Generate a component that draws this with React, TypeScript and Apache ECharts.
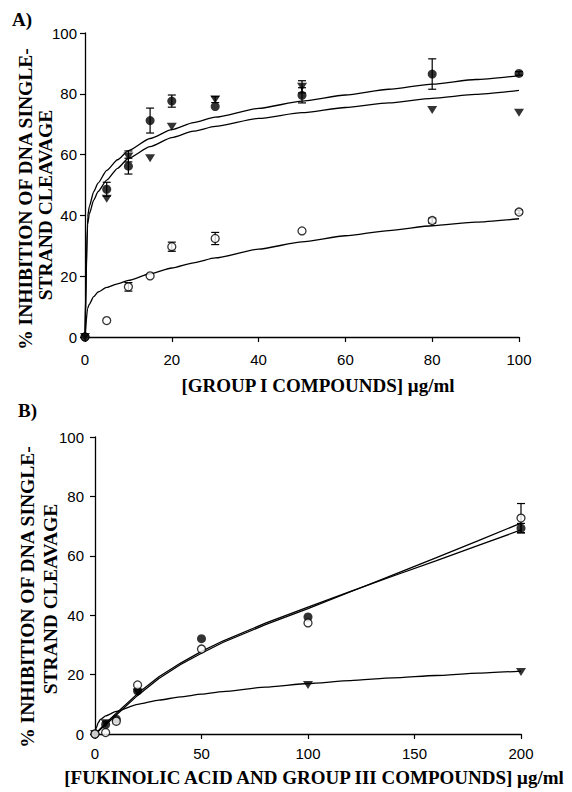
import React, { useEffect, useRef } from "react";
import * as echarts from "echarts";

// ---------- Panel A data ----------
const aX = [0, 5, 10, 15, 20, 30, 50, 80, 100];
const aFilledCircle = [0, 48.6, 56.2, 71.2, 77.6, 75.8, 79.5, 86.5, 86.7];
const aFilledCircleErr = [0, 2.3, 2.6, 4.1, 2, 0, 2.5, 5, 0.6];
const aTriangle = [0, 45.5, 59.4, 58.8, 69.2, 78.1, 82.3, 74.7, 73.8];
const aTriangleErr = [0, 0, 1.8, 0, 0, 1, 2, 0, 0];
const aOpenCircle = [0, 5.4, 16.5, 20.1, 29.7, 32.4, 34.9, 38.3, 41.1];
const aOpenCircleErr = [0, 0, 1.4, 0, 1.5, 2, 0, 0.8, 0.6];

const aFitX = [0, 0.6, 1, 2, 3, 5, 7.5, 10, 15, 20, 25, 30, 40, 50, 60, 70, 80, 90, 100];
const aFitFilled = [0, 39.5, 43, 47.8, 50.6, 54.8, 58.3, 61.3, 65.3, 68.2, 70.5, 72.3, 75.2, 77.6, 79.6, 81.5, 83.2, 84.7, 86];
const aFitTriangle = [0, 37, 40.5, 45, 47.8, 51.6, 55.5, 58.8, 62.6, 65.6, 67.7, 69.3, 71.9, 73.8, 75.5, 77, 78.5, 79.8, 81.1];
const aFitOpen = [0, 9.4, 10.8, 13.3, 14.8, 16.3, 17.5, 18.6, 20.8, 22.7, 24.4, 26, 28.9, 31.3, 33.3, 35, 36.6, 37.8, 38.9];

// ---------- Panel B data ----------
const bX = [0, 5, 10, 20, 50, 100, 200];
const bFilledCircle = [0, 3.2, 5, 14.5, 32.1, 39.4, 69.3];
const bFilledCircleErr = [0, 0, 0, 0, 0, 0, 1.6];
const bOpenCircle = [0, 0.5, 4.3, 16.5, 28.6, 37.4, 72.7];
const bOpenCircleErr = [0, 0, 0, 0, 0, 0, 4.9];
const bTriX = [0, 5, 20, 100, 200];
const bTriangle = [0, 3.6, 14, 16.5, 20.9];

const bFitX = [0, 2.5, 5, 10, 20, 30, 40, 50, 60, 80, 100, 120, 140, 160, 180, 200];
const bFitFilled = [0, 1.8, 3.6, 7, 13.6, 19.3, 23.8, 27.8, 31.3, 37.3, 42.7, 48, 53.2, 58.3, 63.5, 68.7];
const bFitOpen = [0, 1.5, 3.1, 6.4, 13, 18.7, 23.3, 27.2, 30.8, 36.8, 42.2, 47.9, 53.6, 59.3, 65.1, 71];
const bFitTriX = [0, 0.6, 1.5, 2.5, 5, 10, 20, 30, 40, 50, 60, 80, 100, 120, 140, 160, 180, 200];
const bFitTriangle = [0, 2, 3.8, 4.9, 6.1, 7.6, 10, 11.4, 12.5, 13.4, 14.3, 15.8, 17, 18, 18.9, 19.7, 20.5, 21.2];

// ---------- Texts ----------
const yTitle1 = "% INHIBITION OF DNA SINGLE-";
const yTitle2 = "STRAND CLEAVAGE";
const xTitleA = "[GROUP I COMPOUNDS] μg/ml";
const xTitleB = "[FUKINOLIC ACID AND GROUP III COMPOUNDS] μg/ml";

const SERIF = "'Liberation Serif', 'Times New Roman', serif";
const SANS = "'Liberation Sans', Arial, sans-serif";

const pairs = (xs: number[], ys: number[]) => xs.map((x, i) => [x, ys[i]]);

function lineSeries(xs: number[], ys: number[], idx: number, smooth: number | boolean) {
  return {
    type: "line",
    xAxisIndex: idx,
    yAxisIndex: idx,
    data: pairs(xs, ys),
    smooth,
    smoothMonotone: "x",
    showSymbol: false,
    symbol: "none",
    lineStyle: { color: "#000", width: 1.3 },
    z: 2,
    silent: true,
  };
}

function markerSeries(xs: number[], ys: number[], idx: number, kind: string) {
  const base: any = {
    type: "scatter",
    xAxisIndex: idx,
    yAxisIndex: idx,
    data: pairs(xs, ys),
    z: 5,
    silent: true,
  };
  if (kind === "filled") {
    base.symbol = "circle";
    base.symbolSize = 9;
    base.itemStyle = { color: "#000" };
  } else if (kind === "open") {
    base.symbol = "circle";
    base.symbolSize = 8;
    base.itemStyle = { color: "#fff", borderColor: "#000", borderWidth: 1.3 };
  } else {
    base.symbol = "triangle";
    base.symbolRotate = 180;
    base.symbolSize = [10, 8];
    base.itemStyle = { color: "#000" };
  }
  return base;
}

function errSeries(xs: number[], ys: number[], errs: number[], idx: number) {
  const data = xs.map((x, i) => [x, ys[i], errs[i]]).filter((d) => d[2] > 0);
  return {
    type: "custom",
    xAxisIndex: idx,
    yAxisIndex: idx,
    data,
    z: 4,
    silent: true,
    renderItem: (params: any, api: any) => {
      const x = api.value(0);
      const y = api.value(1);
      const e = api.value(2);
      const top = api.coord([x, y + e]);
      const bot = api.coord([x, y - e]);
      const w = 4;
      const st = { stroke: "#000", lineWidth: 1.2 };
      return {
        type: "group",
        children: [
          { type: "line", shape: { x1: top[0], y1: top[1], x2: bot[0], y2: bot[1] }, style: st },
          { type: "line", shape: { x1: top[0] - w, y1: top[1], x2: top[0] + w, y2: top[1] }, style: st },
          { type: "line", shape: { x1: bot[0] - w, y1: bot[1], x2: bot[0] + w, y2: bot[1] }, style: st },
        ],
      };
    },
  };
}

function axisCommon(labelMargin: number) {
  return {
    axisLine: { show: true, lineStyle: { color: "#000", width: 1.3 } },
    axisTick: { show: true, inside: false, length: 5, lineStyle: { color: "#000", width: 1.2 } },
    axisLabel: { color: "#000", fontFamily: SANS, fontSize: 15, margin: labelMargin },
    splitLine: { show: false },
  };
}

export default function App() {
  const ref = useRef<HTMLDivElement>(null);
  useEffect(() => {
    if (!ref.current) return;
    const chart = echarts.init(ref.current, undefined, { renderer: "svg" });
    const titleFont = `bold 19px ${SERIF}`;
    const yFont = `bold 19.5px ${SERIF}`;
    chart.setOption({
      animation: false,
      backgroundColor: "#fff",
      grid: [
        { left: 85, top: 33, width: 434, height: 304 },
        { left: 95, top: 437, width: 426, height: 297 },
      ],
      xAxis: [
        { type: "value", gridIndex: 0, min: 0, max: 100, interval: 20, ...axisCommon(15) },
        { type: "value", gridIndex: 1, min: 0, max: 200, interval: 50, ...axisCommon(12) },
      ],
      yAxis: [
        { type: "value", gridIndex: 0, min: 0, max: 100, interval: 20, ...axisCommon(8) },
        { type: "value", gridIndex: 1, min: 0, max: 100, interval: 20, ...axisCommon(11) },
      ],
      series: [
        lineSeries(aFitX, aFitFilled, 0, 0.2),
        lineSeries(aFitX, aFitTriangle, 0, 0.2),
        lineSeries(aFitX, aFitOpen, 0, 0.2),
        errSeries(aX, aFilledCircle, aFilledCircleErr, 0),
        errSeries(aX, aTriangle, aTriangleErr, 0),
        errSeries(aX, aOpenCircle, aOpenCircleErr, 0),
        markerSeries(aX, aOpenCircle, 0, "open"),
        markerSeries(aX, aTriangle, 0, "triangle"),
        markerSeries(aX, aFilledCircle, 0, "filled"),

        lineSeries(bFitX, bFitFilled, 1, false),
        lineSeries(bFitX, bFitOpen, 1, false),
        lineSeries(bFitTriX, bFitTriangle, 1, 0.2),
        errSeries(bX, bFilledCircle, bFilledCircleErr, 1),
        errSeries(bX, bOpenCircle, bOpenCircleErr, 1),
        markerSeries(bX, bFilledCircle, 1, "filled"),
        markerSeries(bTriX, bTriangle, 1, "triangle"),
        markerSeries(bX, bOpenCircle, 1, "open"),
      ],
      graphic: [
        { type: "text", x: 12, y: 19, style: { text: "A)", font: titleFont, fill: "#000", textAlign: "left", textVerticalAlign: "middle" } },
        { type: "text", x: 18, y: 410, style: { text: "B)", font: titleFont, fill: "#000", textAlign: "left", textVerticalAlign: "middle" } },
        { type: "text", x: 25.5, y: 199, rotation: Math.PI / 2, style: { text: yTitle1, font: yFont, fill: "#000", textAlign: "center", textVerticalAlign: "middle" } },
        { type: "text", x: 45, y: 205, rotation: Math.PI / 2, style: { text: yTitle2, font: yFont, fill: "#000", textAlign: "center", textVerticalAlign: "middle" } },
        { type: "text", x: 27.5, y: 597, rotation: Math.PI / 2, style: { text: yTitle1, font: yFont, fill: "#000", textAlign: "center", textVerticalAlign: "middle" } },
        { type: "text", x: 50, y: 599, rotation: Math.PI / 2, style: { text: yTitle2, font: yFont, fill: "#000", textAlign: "center", textVerticalAlign: "middle" } },
        { type: "text", x: 318, y: 385, style: { text: xTitleA, font: titleFont, fill: "#000", textAlign: "center", textVerticalAlign: "middle" } },
        { type: "text", x: 314, y: 777, style: { text: xTitleB, font: titleFont, fill: "#000", textAlign: "center", textVerticalAlign: "middle" } },
      ],
    });
    return () => chart.dispose();
  }, []);
  return (
    <div
      ref={ref}
      style={{ position: "fixed", left: 0, top: 0, width: 572, height: 792, background: "#fff" }}
    />
  );
}
